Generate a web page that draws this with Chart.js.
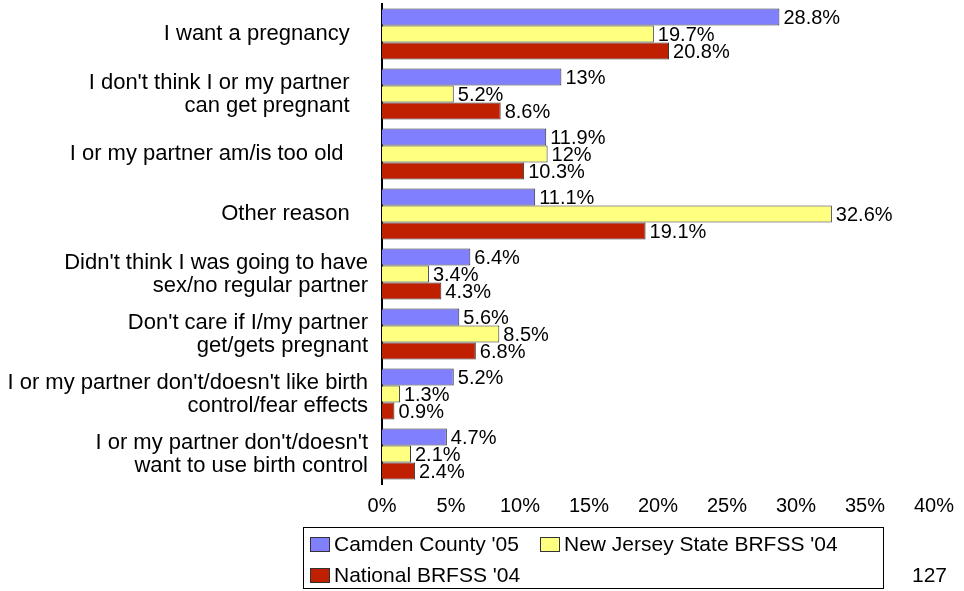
<!DOCTYPE html>
<html>
<head>
<meta charset="utf-8">
<script src="https://cdn.jsdelivr.net/npm/chart.js@4"></script>
<style>
    body { margin: 0; background: #fff; font-family: "Liberation Sans", Arial, sans-serif; }
    #wrap { position: relative; width: 964px; height: 591px; }
    #legend {
        position: absolute; left: 303px; top: 527px; width: 579px; height: 60px;
        border: 1px solid #000; font-size: 21px; color: #000;
    }
    .item { position: absolute; white-space: nowrap; line-height: 24px; }
    .swatch {
        display: inline-block; width: 18px; height: 13px; border: 1px solid #333;
        vertical-align: -1px; margin-right: 4px;
    }
    #pageNum { position: absolute; left: 912px; top: 563px; font-size: 21px; color: #000; }
</style>
</head>
<body>
<div id="wrap">
    <canvas id="chart" width="964" height="591"></canvas>
    <div id="legend"></div>
    <div id="pageNum">127</div>
</div>
<script>
const categories = [
    ['I want a pregnancy   '],
    ["I don't think I or my partner   ", 'can get pregnant   '],
    ['I or my partner am/is too old    '],
    ['Other reason   '],
    ["Didn't think I was going to have", 'sex/no regular partner'],
    ["Don't care if I/my partner", 'get/gets pregnant'],
    ["I or my partner don't/doesn't like birth", 'control/fear effects'],
    ["I or my partner don't/doesn't", 'want to use birth control']
];
const seriesNames = ["Camden County '05", 'New Jersey State BRFSS \'04', "National BRFSS '04"];
const camden = [28.8, 13, 11.9, 11.1, 6.4, 5.6, 5.2, 4.7];
const newJersey = [19.7, 5.2, 12, 32.6, 3.4, 8.5, 1.3, 2.1];
const national = [20.8, 8.6, 10.3, 19.1, 4.3, 6.8, 0.9, 2.4];
const valueLabels = [
    ['28.8%', '13%', '11.9%', '11.1%', '6.4%', '5.6%', '5.2%', '4.7%'],
    ['19.7%', '5.2%', '12%', '32.6%', '3.4%', '8.5%', '1.3%', '2.1%'],
    ['20.8%', '8.6%', '10.3%', '19.1%', '4.3%', '6.8%', '0.9%', '2.4%']
];
const xTicks = [0, 5, 10, 15, 20, 25, 30, 35, 40];

const colors = ['#8080FF', '#FFFF80', '#C02000'];
const FONT = '"Liberation Sans", Arial, sans-serif';

// value labels to the right of each bar
const barLabels = {
    id: 'barLabels',
    afterDatasetsDraw(chart) {
        const ctx = chart.ctx;
        ctx.save();
        ctx.font = '20px ' + FONT;
        ctx.fillStyle = '#000';
        ctx.textAlign = 'left';
        ctx.textBaseline = 'middle';
        chart.data.datasets.forEach((ds, di) => {
            chart.getDatasetMeta(di).data.forEach((bar, i) => {
                ctx.fillText(valueLabels[di][i], bar.x + 4, bar.y + 1);
            });
        });
        ctx.restore();
    }
};

new Chart(document.getElementById('chart').getContext('2d'), {
    type: 'bar',
    data: {
        labels: categories,
        datasets: [camden, newJersey, national].map((d, i) => ({
            label: seriesNames[i],
            data: d,
            backgroundColor: colors[i],
            borderColor: '#333333',
            borderWidth: 1,
            categoryPercentage: 0.85,
            barPercentage: 1
        }))
    },
    options: {
        indexAxis: 'y',
        responsive: false,
        animation: false,
        devicePixelRatio: 1,
        layout: { padding: { top: 4, bottom: 67, left: 0, right: 25 } },
        scales: {
            x: {
                min: 0,
                max: 40,
                afterBuildTicks: axis => { axis.ticks = xTicks.map(v => ({ value: v })); },
                afterFit: axis => { axis.height = 40; },
                grid: { display: false, drawTicks: false },
                border: { display: false },
                ticks: {
                    color: '#000',
                    font: { family: FONT, size: 20 },
                    padding: 10,
                    callback: v => v + '%'
                }
            },
            y: {
                afterFit: axis => {
                    axis.width = 382;
                    axis.paddingTop = 0;
                    axis.paddingBottom = 0;
                },
                grid: { display: false, drawTicks: false },
                border: { display: true, color: '#000', width: 2 },
                ticks: {
                    color: '#000',
                    font: { family: FONT, size: 22, lineHeight: 1.05 },
                    padding: 14
                }
            }
        },
        plugins: {
            legend: { display: false },
            tooltip: { enabled: false }
        }
    },
    plugins: [barLabels]
});

// legend box
const legend = document.getElementById('legend');
const legendPos = [[6, 4], [236, 4], [6, 35]];
seriesNames.forEach((name, i) => {
    const item = document.createElement('div');
    item.className = 'item';
    item.style.left = legendPos[i][0] + 'px';
    item.style.top = legendPos[i][1] + 'px';
    item.innerHTML = '<span class="swatch" style="background:' + colors[i] + '"></span>' + name;
    legend.appendChild(item);
});
</script>
</body>
</html>
